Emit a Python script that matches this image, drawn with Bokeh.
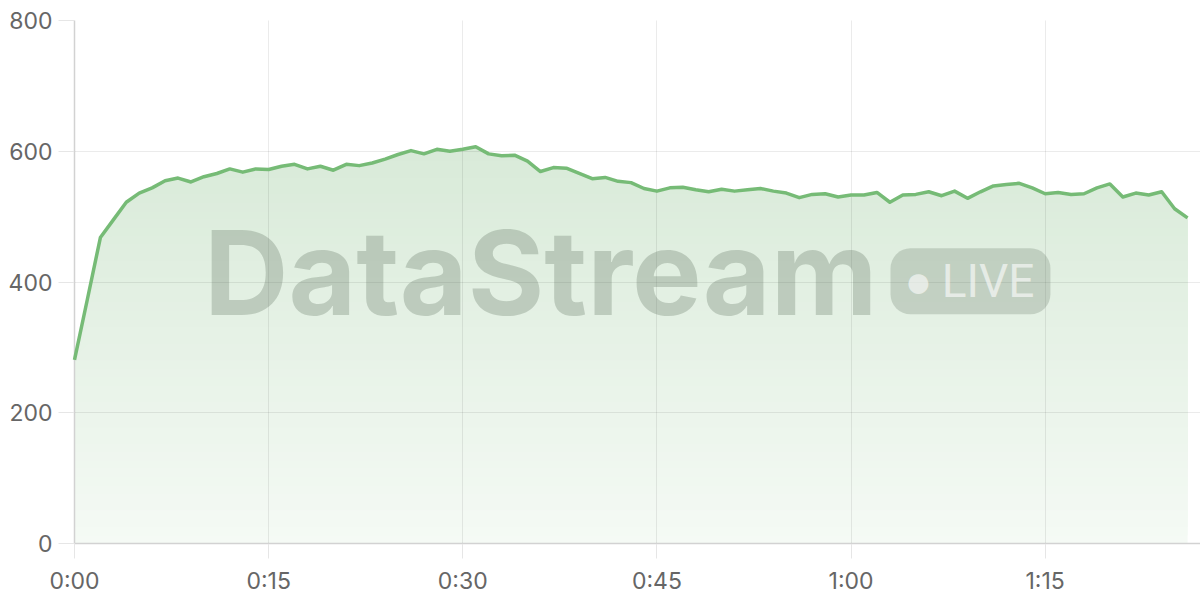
import numpy as np
from bokeh.plotting import figure
from bokeh.models import FixedTicker, Label, Range1d
from bokeh.embed import file_html
from bokeh.resources import INLINE

# ---- data ----
minutes = list(range(87))
throughput = [
    281, 374, 468, 495, 522, 536, 544, 555, 559, 553,
    561, 566, 573, 568, 573, 572, 577, 580, 573, 577,
    571, 580, 578, 582, 588, 595, 601, 596, 603, 600,
    603, 607, 596, 593, 594, 585, 569, 575, 574, 566,
    558, 560, 554, 552, 543, 539, 544, 545, 541, 538,
    542, 539, 541, 543, 539, 536, 529, 534, 535, 530,
    533, 533, 537, 522, 533, 534, 538, 532, 539, 528,
    538, 547, 549, 551, 544, 535, 537, 534, 535, 544,
    550, 530, 536, 533, 538, 512, 498,
]
x_ticks = [0, 15, 30, 45, 60, 75]
x_tick_labels = ["0:00", "0:15", "0:30", "0:45", "1:00", "1:15"]
y_ticks = [0, 200, 400, 600, 800]
watermark_text = "DataStream"
badge_text = "\u25cf\u2009LIVE"

FONT = "Inter"

p = figure(width=1200, height=597, output_backend="svg", toolbar_location=None,
           x_range=Range1d(0, 87), y_range=Range1d(0, 800),
           min_border_left=74, min_border_right=0, min_border_top=20,
           min_border_bottom=54)
p.outline_line_color = None
p.background_fill_color = "white"
p.border_fill_color = "white"

x = np.array(minutes, dtype=float)
v = np.array(throughput, dtype=float)

# gradient-like area fill (layered bands)
top_c = np.array([216, 234, 216])
bot_c = np.array([245, 250, 245])
N = 48
vtop = 610.0
for k in range(N):
    lo = vtop * k / N
    t = (k + 0.5) / N
    c = bot_c + (top_c - bot_c) * t
    col = "#%02x%02x%02x" % tuple(int(round(q)) for q in c)
    p.varea(x=x, y1=np.minimum(v, lo), y2=v, fill_color=col, fill_alpha=1.0)

line_r = p.line(x, v, line_color="#76bb76", line_width=3.5, line_join="round")
line_r.level = "overlay"

# axes
for ax in (p.xaxis[0], p.yaxis[0]):
    ax.axis_line_color = "#d2d2d2"
    ax.axis_line_width = 1.5
    ax.major_tick_line_color = "#e6e6e6"
    ax.major_tick_line_width = 1
    ax.major_tick_in = 0
    ax.minor_tick_line_color = None
    ax.major_label_text_font = FONT
    ax.major_label_text_font_size = "23px"
    ax.major_label_text_color = "#666666"

p.xaxis.ticker = FixedTicker(ticks=x_ticks)
p.xaxis.major_label_overrides = {t: l for t, l in zip(x_ticks, x_tick_labels)}
p.xaxis.major_tick_out = 15
p.xaxis.major_label_standoff = 8
p.yaxis.ticker = FixedTicker(ticks=y_ticks)
p.yaxis.major_tick_out = 16
p.yaxis.major_label_standoff = 6

p.xgrid.ticker = FixedTicker(ticks=x_ticks)
p.ygrid.ticker = FixedTicker(ticks=y_ticks)
for g in (p.xgrid[0], p.ygrid[0]):
    g.grid_line_color = "black"
    g.grid_line_alpha = 0.08
    g.grid_line_width = 1
    g.level = "annotation"

# watermark
wm = Label(x=10.0, y=415, text=watermark_text, text_font=FONT,
           text_font_style="bold", text_font_size="117px",
           text_color="#5a6b5a", text_alpha=0.28, text_baseline="middle",
           text_align="left")
p.add_layout(wm)
badge = Label(x=63.05, y=401, text=badge_text, text_font="Roboto",
              text_font_size="46px", text_color="white", text_alpha=0.6,
              background_fill_color="#5a6b5a", background_fill_alpha=0.24,
              border_radius=20,
              padding=dict(left=14, right=16, top=6, bottom=6),
              text_baseline="middle", text_align="left")
p.add_layout(badge)

open("out.html", "w").write(file_html(p, INLINE))
